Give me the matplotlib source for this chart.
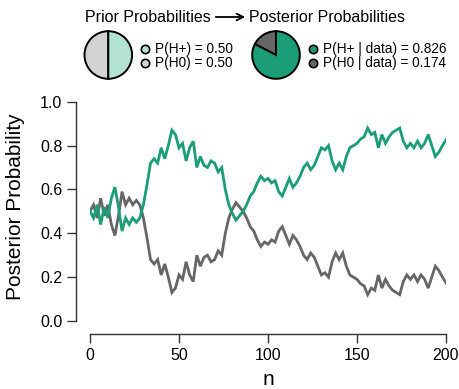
import numpy as np
import matplotlib
matplotlib.use("Agg")
import matplotlib.pyplot as plt
from matplotlib.patches import FancyArrowPatch

plt.rcParams['font.family'] = ['Liberation Sans', 'DejaVu Sans']

# sequential posterior probability of H+ (every 2nd n)
n_vals = list(range(0, 201, 2))
p_hplus = [0.50, 0.47, 0.53, 0.44, 0.52, 0.47, 0.56, 0.61, 0.52, 0.41,
           0.47, 0.44, 0.47, 0.45, 0.47, 0.53, 0.62, 0.72, 0.74, 0.72,
           0.79, 0.74, 0.80, 0.87, 0.85, 0.79, 0.81, 0.73, 0.79, 0.82,
           0.70, 0.75, 0.71, 0.70, 0.73, 0.72, 0.68, 0.70, 0.60, 0.53,
           0.49, 0.46, 0.48, 0.50, 0.53, 0.57, 0.59, 0.63, 0.66, 0.64,
           0.65, 0.63, 0.64, 0.59, 0.57, 0.61, 0.65, 0.61, 0.63, 0.66,
           0.70, 0.72, 0.69, 0.71, 0.75, 0.79, 0.78, 0.80, 0.73, 0.69,
           0.72, 0.69, 0.75, 0.79, 0.80, 0.81, 0.83, 0.84, 0.88, 0.85,
           0.86, 0.79, 0.85, 0.81, 0.84, 0.86, 0.87, 0.88, 0.82, 0.79,
           0.81, 0.79, 0.82, 0.79, 0.81, 0.85, 0.80, 0.75, 0.77, 0.80,
           0.826]
p_h0 = [1 - p for p in p_hplus]

prior_probs = [0.50, 0.50]        # H0, H+
posterior_probs = [0.174, 0.826]  # H0, H+
prior_labels = ["P(H+) = 0.50", "P(H0) = 0.50"]
post_labels = ["P(H+ | data) = 0.826", "P(H0 | data) = 0.174"]

green = "#1b9e77"
grey = "#666666"
light_green = "#b3e2d4"
light_grey = "#d3d3d3"

W, H = 460, 389
fig = plt.figure(figsize=(W / 100, H / 100), dpi=100)


def fx(x):
    return x / W


def fy(y):
    return 1 - y / H


# main plot
ax = fig.add_axes([fx(90), fy(321), fx(446) - fx(90), fy(101.7) - fy(321)])
ax.plot(n_vals, p_h0, color=grey, lw=2.0, solid_joinstyle='miter')
ax.plot(n_vals, p_hplus, color=green, lw=2.0, solid_joinstyle='miter')
ax.set_xlim(0, 200)
ax.set_ylim(0, 1)
ax.set_xticks([0, 50, 100, 150, 200])
ax.set_yticks([0, 0.2, 0.4, 0.6, 0.8, 1.0])
ax.set_yticklabels(["0.0", "0.2", "0.4", "0.6", "0.8", "1.0"])
for s in ['top', 'right']:
    ax.spines[s].set_visible(False)
# offsets in points (px * 0.72)
ax.spines['left'].set_position(('outward', 10))
ax.spines['bottom'].set_position(('outward', 9.4))
ax.spines['left'].set_bounds(0, 1)
ax.spines['bottom'].set_bounds(0, 200)
for s in ['left', 'bottom']:
    ax.spines[s].set_color("#333333")
    ax.spines[s].set_linewidth(1.0)
ax.tick_params(length=6.8, width=1.0, color="#333333", labelsize=11.5, pad=3)

fig.text(fx(16), fy(207), "Posterior Probability", rotation=90,
         ha='center', va='center', fontsize=15)
fig.text(fx(268), fy(385), "n", ha='center', va='baseline', fontsize=15)

# headers and arrow
fig.text(fx(85), fy(22), "Prior Probabilities", ha='left', va='baseline', fontsize=11.5)
fig.text(fx(249), fy(22), "Posterior Probabilities", ha='left', va='baseline', fontsize=11.5)
arr = FancyArrowPatch((fx(213), fy(17)), (fx(248), fy(17)), transform=fig.transFigure,
                      arrowstyle='->', mutation_scale=12, lw=1.3, color='black')
fig.patches.append(arr)

# pies
r = 25
for cx, probs, cols in [(108.3, prior_probs, [light_grey, light_green]),
                        (276, posterior_probs, [grey, green])]:
    pax = fig.add_axes([fx(cx - r), fy(55 + r), 2 * r / W, 2 * r / H])
    pax.pie(probs, colors=cols, startangle=90, counterclock=True,
            wedgeprops=dict(edgecolor='black', linewidth=1.4))
    pax.set_xlim(-1.05, 1.05)
    pax.set_ylim(-1.05, 1.05)
    pax.set_aspect('equal')
    pax.axis('off')

# pie legends
for mx, labels, cols in [(145, prior_labels, [light_green, light_grey]),
                         (313.5, post_labels, [green, grey])]:
    for i, (lab, c) in enumerate(zip(labels, cols)):
        yy = 49 + i * 14
        fig.lines.append(plt.Line2D([fx(mx)], [fy(yy)], transform=fig.transFigure,
                                    marker='o', ms=6, mfc=c, mec='black', mew=1.2,
                                    ls='none'))
        fig.text(fx(mx + 10), fy(yy), lab, ha='left', va='center', fontsize=9.8)

fig.savefig("out.png", dpi=100)
